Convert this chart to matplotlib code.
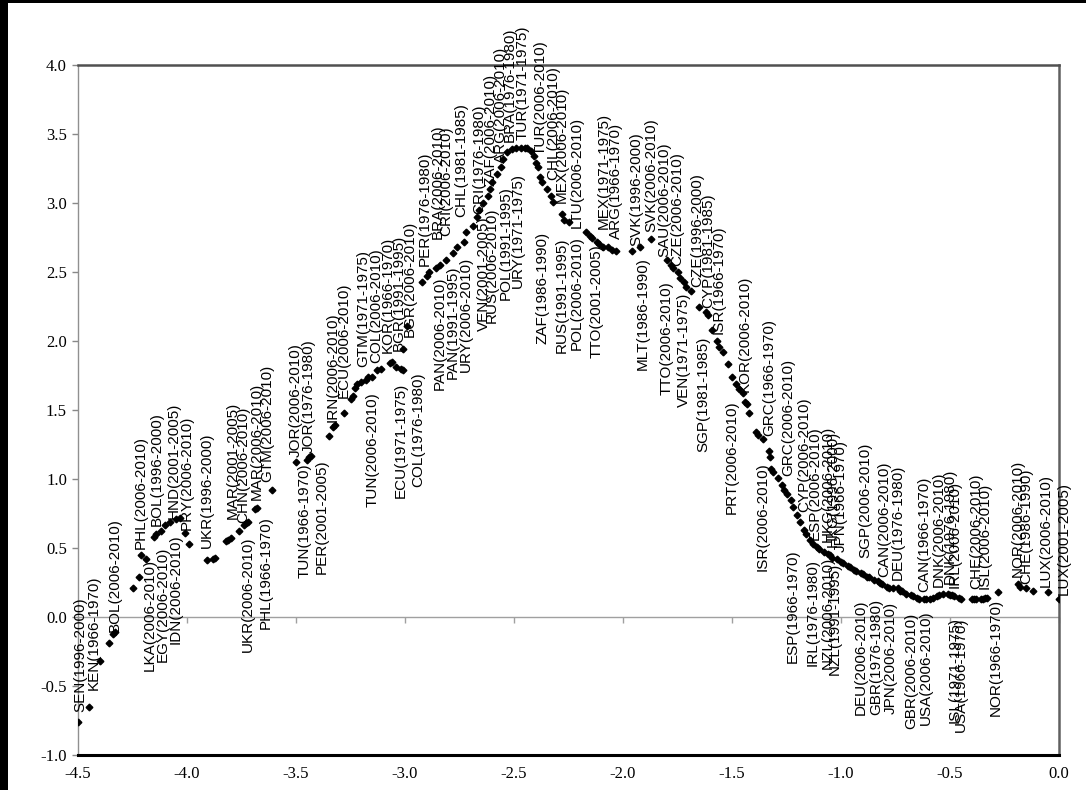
import matplotlib.pyplot as plt
from matplotlib.patches import Rectangle

# scatter points (x, y)
x_vals = [
    -4.50, -4.45, -4.40, -4.36, -4.34, -4.33, -4.25, -4.22, -4.21, -4.19,
    -4.15, -4.14, -4.12, -4.10, -4.08, -4.05, -4.03, -4.01, -3.99, -3.91,
    -3.88, -3.87, -3.82, -3.81, -3.80, -3.76, -3.74, -3.73, -3.72, -3.69,
    -3.68, -3.61, -3.50, -3.45, -3.44, -3.43, -3.35, -3.33, -3.32, -3.28,
    -3.25, -3.24, -3.23, -3.22, -3.20, -3.18, -3.17, -3.15, -3.13, -3.11,
    -3.07, -3.06, -3.04, -3.02, -3.01, -3.01, -2.99,
    -2.92, -2.90, -2.89, -2.86, -2.84, -2.81, -2.78, -2.76, -2.73, -2.72,
    -2.69, -2.67, -2.66, -2.64, -2.62, -2.61, -2.60, -2.58, -2.56, -2.55,
    -2.53, -2.51, -2.49, -2.47, -2.45, -2.44, -2.42,
    -2.41, -2.40, -2.39, -2.38, -2.37, -2.35, -2.33, -2.32, -2.28, -2.27,
    -2.25, -2.17, -2.15, -2.14, -2.12, -2.11, -2.09, -2.07, -2.05, -2.03,
    -1.96, -1.92, -1.87,
    -1.80, -1.78, -1.77, -1.75, -1.74, -1.72, -1.71, -1.69, -1.65, -1.62,
    -1.61, -1.59, -1.57, -1.56, -1.54, -1.52, -1.50, -1.48, -1.47, -1.45,
    -1.44, -1.43, -1.42, -1.39, -1.38, -1.36, -1.33, -1.325, -1.32, -1.31,
    -1.29,
    -1.27, -1.26, -1.25, -1.23, -1.22, -1.20, -1.19, -1.17, -1.16, -1.14,
    -1.13, -1.11, -1.10, -1.08, -1.06, -1.05, -1.04, -1.02, -1.00, -0.99,
    -0.97, -0.96, -0.94, -0.93, -0.91, -0.90, -0.88, -0.87, -0.85, -0.83,
    -0.82, -0.81, -0.79, -0.78, -0.76, -0.74, -0.73, -0.72, -0.70, -0.68,
    -0.67, -0.65, -0.64, -0.62, -0.61, -0.59, -0.58, -0.56, -0.55, -0.53,
    -0.51, -0.50, -0.49, -0.48, -0.46, -0.45, -0.40, -0.39, -0.38, -0.36,
    -0.35, -0.34, -0.33, -0.28, -0.19, -0.18, -0.15, -0.12, -0.05, 0.00,
]
y_vals = [
    -0.76, -0.65, -0.32, -0.19, -0.12, -0.11, 0.21, 0.29, 0.45, 0.42,
    0.58, 0.60, 0.62, 0.67, 0.69, 0.71, 0.72, 0.61, 0.53, 0.41,
    0.42, 0.43, 0.55, 0.56, 0.57, 0.62, 0.67, 0.68, 0.69, 0.78,
    0.79, 0.92, 1.12, 1.14, 1.16, 1.17, 1.31, 1.38, 1.39, 1.48,
    1.58, 1.60, 1.66, 1.69, 1.70, 1.72, 1.74, 1.74, 1.79, 1.80,
    1.84, 1.85, 1.81, 1.80, 1.79, 1.94, 2.11,
    2.43, 2.47, 2.50, 2.53, 2.55, 2.59, 2.64, 2.68, 2.72, 2.79,
    2.83, 2.90, 2.95, 3.00, 3.05, 3.10, 3.15, 3.21, 3.26, 3.32,
    3.37, 3.39, 3.40, 3.40, 3.40, 3.40, 3.38,
    3.34, 3.29, 3.26, 3.19, 3.15, 3.10, 3.05, 3.01, 2.92, 2.88,
    2.86, 2.79, 2.76, 2.75, 2.72, 2.70, 2.68, 2.68, 2.66, 2.65,
    2.65, 2.68, 2.74,
    2.59, 2.55, 2.53, 2.50, 2.46, 2.43, 2.39, 2.36, 2.25, 2.21,
    2.19, 2.08, 2.00, 1.96, 1.92, 1.83, 1.74, 1.69, 1.65, 1.62,
    1.56, 1.54, 1.48, 1.34, 1.32, 1.29, 1.20, 1.16, 1.07, 1.05,
    1.01,
    0.96, 0.92, 0.89, 0.85, 0.80, 0.74, 0.69, 0.63, 0.60, 0.56,
    0.53, 0.51, 0.49, 0.47, 0.46, 0.45, 0.43, 0.42, 0.40, 0.39,
    0.37, 0.36, 0.34, 0.33, 0.32, 0.31, 0.29, 0.29, 0.27, 0.26,
    0.25, 0.24, 0.22, 0.21, 0.21, 0.21, 0.19, 0.19, 0.17, 0.16,
    0.15, 0.14, 0.13, 0.13, 0.13, 0.13, 0.14, 0.15, 0.16, 0.17,
    0.17, 0.16, 0.16, 0.15, 0.14, 0.13, 0.13, 0.13, 0.13, 0.13,
    0.13, 0.14, 0.14, 0.18, 0.24, 0.22, 0.21, 0.19, 0.18, 0.13,
]

# country(period) labels
label_names = [
    "SEN(1996-2000)", "KEN(1966-1970)", "BOL(2006-2010)", "PHL(2006-2010)",
    "BOL(1996-2000)", "HND(2001-2005)", "PRY(2006-2010)", "UKR(1996-2000)",
    "MAR(2001-2005)", "CHN(2006-2010)", "MAR(2006-2010)", "GTM(2006-2010)",
    "JOR(2006-2010)", "JOR(1976-1980)", "IRN(2006-2010)", "ECU(2006-2010)",
    "GTM(1971-1975)", "COL(2006-2010)", "KOR(1966-1970)", "BGR(1991-1995)",
    "BGR(2006-2010)", "PER(1976-1980)", "BRA(2006-2010)", "CRI(2006-2010)",
    "CHL(1981-1985)", "CRI(1976-1980)", "ZAF(2006-2010)", "ARG(2006-2010)",
    "BRA(1976-1980)", "TUR(1971-1975)", "TUR(2006-2010)", "CHL(2006-2010)",
    "MEX(2006-2010)", "LTU(2006-2010)", "MEX(1971-1975)", "ARG(1966-1970)",
    "SVK(1996-2000)", "SVK(2006-2010)", "SAU(2006-2010)", "CZE(2006-2010)",
    "CZE(1996-2000)", "CYP(1981-1985)", "ISR(1966-1970)", "KOR(2006-2010)",
    "GRC(1966-1970)", "GRC(2006-2010)", "CYP(2006-2010)", "ESP(2006-2010)",
    "HKG(2006-2010)", "HKG(1996-2000)", "JPN(1966-1970)", "SGP(2006-2010)",
    "CAN(2006-2010)", "DEU(1976-1980)", "CAN(1966-1970)", "DNK(2006-2010)",
    "DNK(1976-1980)", "IRL(2006-2010)", "CHE(2006-2010)", "ISL(2006-2010)",
    "NOR(2006-2010)", "CHE(1986-1990)", "LUX(2006-2010)", "LUX(2001-2005)",
    "LKA(2006-2010)", "EGY(2006-2010)", "IDN(2006-2010)", "UKR(2006-2010)",
    "PHL(1966-1970)", "TUN(1966-1970)", "PER(2001-2005)", "TUN(2006-2010)",
    "ECU(1971-1975)", "COL(1976-1980)", "PAN(2006-2010)", "PAN(1991-1995)",
    "URY(2006-2010)", "VEN(2001-2005)", "RUS(2006-2010)", "POL(1991-1995)",
    "URY(1971-1975)", "ZAF(1986-1990)", "RUS(1991-1995)", "POL(2006-2010)",
    "TTO(2001-2005)", "MLT(1986-1990)", "TTO(2006-2010)", "VEN(1971-1975)",
    "SGP(1981-1985)", "PRT(2006-2010)", "ISR(2006-2010)", "ESP(1966-1970)",
    "IRL(1976-1980)", "NZL(2006-2010)", "NZL(1991-1995)", "DEU(2006-2010)",
    "GBR(1976-1980)", "JPN(2006-2010)", "GBR(2006-2010)", "USA(2006-2010)",
    "ISL(1971-1975)", "USA(1966-1970)", "NOR(1966-1970)",
]
# where each label sits: (x, y of the end next to the curve, 'a' above / 'b' below)
label_layout = [
    (-4.49, -0.69, 'a'), (-4.43, -0.53, 'a'), (-4.33, -0.11, 'a'), (-4.21, 0.49, 'a'),
    (-4.14, 0.66, 'a'), (-4.06, 0.71, 'a'), (-4.00, 0.63, 'a'), (-3.91, 0.50, 'a'),
    (-3.79, 0.71, 'a'), (-3.74, 0.68, 'a'), (-3.68, 0.85, 'a'), (-3.63, 0.98, 'a'),
    (-3.50, 1.16, 'a'), (-3.44, 1.19, 'a'), (-3.33, 1.41, 'a'), (-3.28, 1.59, 'a'),
    (-3.19, 1.81, 'a'), (-3.13, 1.84, 'a'), (-3.08, 1.91, 'a'), (-3.03, 1.93, 'a'),
    (-2.98, 2.03, 'a'), (-2.91, 2.54, 'a'), (-2.85, 2.74, 'a'), (-2.81, 2.76, 'a'),
    (-2.74, 2.90, 'a'), (-2.66, 2.92, 'a'), (-2.61, 3.12, 'a'), (-2.56, 3.29, 'a'),
    (-2.52, 3.44, 'a'), (-2.46, 3.46, 'a'), (-2.38, 3.35, 'a'), (-2.32, 3.17, 'a'),
    (-2.28, 3.00, 'a'), (-2.21, 2.82, 'a'), (-2.09, 2.81, 'a'), (-2.03, 2.74, 'a'),
    (-1.94, 2.69, 'a'), (-1.87, 2.79, 'a'), (-1.81, 2.61, 'a'), (-1.75, 2.54, 'a'),
    (-1.66, 2.39, 'a'), (-1.61, 2.24, 'a'), (-1.56, 2.05, 'a'), (-1.44, 1.63, 'a'),
    (-1.33, 1.31, 'a'), (-1.24, 1.02, 'a'), (-1.17, 0.76, 'a'), (-1.12, 0.56, 'a'),
    (-1.06, 0.54, 'a'), (-1.04, 0.51, 'a'), (-1.00, 0.47, 'a'), (-0.89, 0.43, 'a'),
    (-0.80, 0.29, 'a'), (-0.74, 0.27, 'a'), (-0.62, 0.18, 'a'), (-0.55, 0.22, 'a'),
    (-0.50, 0.24, 'a'), (-0.48, 0.21, 'a'), (-0.38, 0.20, 'a'), (-0.34, 0.20, 'a'),
    (-0.19, 0.29, 'a'), (-0.15, 0.24, 'a'), (-0.06, 0.22, 'a'), (0.02, 0.16, 'a'),
    (-4.17, 0.42, 'b'), (-4.11, 0.51, 'b'), (-4.05, 0.60, 'b'), (-3.72, 0.58, 'b'),
    (-3.64, 0.73, 'b'), (-3.46, 1.11, 'b'), (-3.38, 1.14, 'b'), (-3.15, 1.63, 'b'),
    (-3.02, 1.70, 'b'), (-2.94, 1.77, 'b'), (-2.84, 2.47, 'b'), (-2.78, 2.55, 'b'),
    (-2.72, 2.61, 'b'), (-2.64, 2.90, 'b'), (-2.60, 2.97, 'b'), (-2.54, 3.12, 'b'),
    (-2.48, 3.22, 'b'), (-2.37, 2.79, 'b'), (-2.28, 2.75, 'b'), (-2.21, 2.76, 'b'),
    (-2.12, 2.70, 'b'), (-1.91, 2.61, 'b'), (-1.80, 2.43, 'b'), (-1.72, 2.35, 'b'),
    (-1.63, 2.03, 'b'), (-1.50, 1.57, 'b'), (-1.36, 1.12, 'b'), (-1.22, 0.49, 'b'),
    (-1.13, 0.42, 'b'), (-1.06, 0.44, 'b'), (-1.03, 0.39, 'b'), (-0.91, 0.13, 'b'),
    (-0.84, 0.13, 'b'), (-0.77, 0.11, 'b'), (-0.68, 0.03, 'b'), (-0.61, 0.05, 'b'),
    (-0.48, 0.00, 'b'), (-0.45, 0.00, 'b'), (-0.29, 0.13, 'b'),
]

xticks = [-4.5, -4.0, -3.5, -3.0, -2.5, -2.0, -1.5, -1.0, -0.5, 0.0]
yticks = [-1.0, -0.5, 0.0, 0.5, 1.0, 1.5, 2.0, 2.5, 3.0, 3.5, 4.0]

fig = plt.figure(figsize=(10.86, 7.9), dpi=100, facecolor='black')
fig.add_artist(Rectangle((8 / 1086, 0), 1, 1 - 3 / 790, transform=fig.transFigure,
                         facecolor='white', edgecolor='none', zorder=-10))
ax = fig.add_axes([78 / 1086, 35 / 790, 981 / 1086, 690 / 790])

ax.plot(x_vals, y_vals, ls='none', marker='D', ms=3.4, color='black', zorder=3)

for name, (lx, ly, side) in zip(label_names, label_layout):
    ax.text(lx, ly, name, rotation=90, ha='center',
            va='bottom' if side == 'a' else 'top',
            fontsize=11, family='Liberation Sans', color='black')

ax.set_xlim(-4.5, 0.0)
ax.set_ylim(-1.0, 4.0)
ax.set_xticks(xticks)
ax.set_yticks(yticks)
ax.set_xticklabels([f"{t:.1f}" for t in xticks], family='Liberation Serif', fontsize=12)
ax.set_yticklabels([f"{t:.1f}" for t in yticks], family='Liberation Serif', fontsize=12)
ax.tick_params(axis='x', length=0, pad=8)
ax.tick_params(axis='y', length=4, width=1, color='#888888', pad=4)

# horizontal axis line at zero, with its tick marks
ax.axhline(0, color='#a0a0a0', lw=1, zorder=1)
ax.plot(xticks, [0] * len(xticks), ls='none', marker=3, ms=4, mew=1,
        color='#a0a0a0', zorder=1, clip_on=False)

ax.spines['left'].set_color('#909090')
ax.spines['left'].set_linewidth(1)
ax.spines['top'].set_color('#505050')
ax.spines['top'].set_linewidth(1.8)
ax.spines['right'].set_color('#606060')
ax.spines['right'].set_linewidth(1.8)
ax.spines['bottom'].set_color('black')
ax.spines['bottom'].set_linewidth(2.2)

fig.savefig('out.png', dpi=100, facecolor=fig.get_facecolor())
